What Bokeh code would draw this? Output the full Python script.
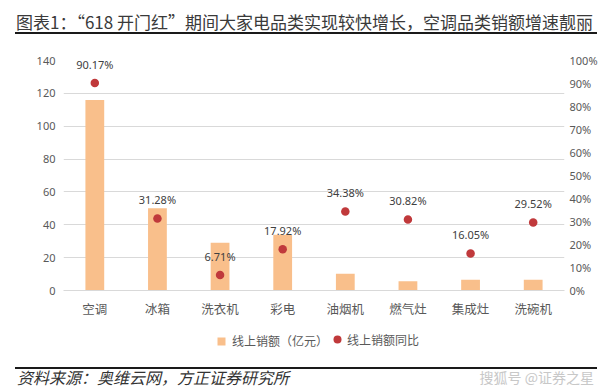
from bokeh.plotting import figure
from bokeh.models import (FactorRange, Range1d, LinearAxis, SingleIntervalTicker,
                          PrintfTickFormatter, Legend, LegendItem, LabelSet, Div,
                          ColumnDataSource)
from bokeh.layouts import column
from bokeh.embed import file_html
from bokeh.resources import INLINE
from bokeh.core.properties import value

# ---------------- data ----------------
categories = ["空调", "冰箱", "洗衣机", "彩电", "油烟机", "燃气灶", "集成灶", "洗碗机"]
sales = [116, 50, 29, 34, 10.2, 5.7, 6.5, 6.5]                 # 线上销额（亿元）
yoy = [90.17, 31.28, 6.71, 17.92, 34.38, 30.82, 16.05, 29.52]  # 线上销额同比 (%)
left_max, left_step = 140, 20
right_max, right_step = 100, 10

title_text = "图表1：“618 开门红”期间大家电品类实现较快增长，空调品类销额增速靓丽"
source_text = "资料来源：奥维云网，方正证券研究所"
watermark_text = "搜狐号 @证券之星"
legend_sales = "线上销额（亿元）"
legend_yoy = "线上销额同比"

CJK = "Noto Sans CJK SC"
NUM = "Noto Sans"
BAR_COLOR = "#F9BF8B"
DOT_COLOR = "#C0393B"
W = 600

# ---------------- header ----------------
header = Div(width=W, height=36, margin=0, text=(
    f'<div style="position:relative;width:{W}px;height:36px;margin:0;padding:0;">'
    f'<div style="position:absolute;left:16px;top:12px;font-family:\'{CJK}\';'
    f'font-size:17px;line-height:20px;color:#3a3a3a;white-space:nowrap;">{title_text}</div>'
    f'<div style="position:absolute;left:15px;width:582px;top:32px;height:2px;'
    f'background:#1a1a1a;"></div></div>'))

# ---------------- main chart ----------------
src = ColumnDataSource(dict(cat=categories, sales=sales, yoy=yoy,
                            label=[f"{v:.2f}%" for v in yoy]))

p = figure(width=W, height=286, x_range=FactorRange(*categories, range_padding=0),
           y_range=Range1d(0, left_max), toolbar_location=None, output_backend="svg",
           min_border_left=63, min_border_right=33, min_border_top=24,
           min_border_bottom=32, outline_line_color=None)
p.extra_y_ranges = {"pct": Range1d(0, right_max)}

bars = p.vbar(x="cat", top="sales", width=0.3, source=src, fill_color=BAR_COLOR,
              line_color=None)
dots = p.scatter(x="cat", y="yoy", y_range_name="pct", size=8.5, source=src,
                 fill_color=DOT_COLOR, line_color=None)

labels = LabelSet(x="cat", y="yoy", text="label", y_range_name="pct", source=src,
                  y_offset=19, text_align="center", text_baseline="middle",
                  text_font=value(NUM), text_font_size="11px", text_color="#404040")
p.add_layout(labels)

ry = LinearAxis(y_range_name="pct", ticker=SingleIntervalTicker(interval=right_step),
                formatter=PrintfTickFormatter(format="%d%%"))
p.add_layout(ry, "right")

p.yaxis[0].ticker = SingleIntervalTicker(interval=left_step)
for ax in p.yaxis:
    ax.axis_line_color = None
    ax.major_tick_line_color = None
    ax.minor_tick_line_color = None
    ax.major_tick_out = 0
    ax.major_tick_in = 0
    ax.minor_tick_out = 0
    ax.major_label_text_font = NUM
    ax.major_label_text_font_size = "11px"
    ax.major_label_text_color = "#595959"
p.yaxis[0].major_label_standoff = 8
ry.major_label_standoff = 5

p.xaxis.axis_line_color = "#D9D9D9"
p.xaxis.major_tick_line_color = None
p.xaxis.minor_tick_line_color = None
p.xaxis.major_tick_out = 0
p.xaxis.major_tick_in = 0
p.xaxis.major_label_standoff = 8
p.xaxis.major_label_text_font = CJK
p.xaxis.major_label_text_font_size = "12.5px"
p.xaxis.major_label_text_color = "#595959"

p.xgrid.grid_line_color = None
p.ygrid.grid_line_color = "#D9D9D9"
p.ygrid.grid_line_width = 1

# ---------------- legend strip ----------------
# same series, same x scale; its y range lies above the data so only the legends show
lf = figure(width=W, height=34, x_range=p.x_range, y_range=Range1d(1000, 1001),
            x_axis_type=None, y_axis_type=None, toolbar_location=None,
            output_backend="svg", min_border=0, outline_line_color=None)
lf.grid.visible = False
lg_bar = lf.vbar(x="cat", top="sales", width=0.3, source=src, fill_color=BAR_COLOR,
                 line_color=None)
lg_dot = lf.scatter(x="cat", y="yoy", size=8.5, source=src, fill_color=DOT_COLOR,
                    line_color=None)
common = dict(orientation="horizontal", label_text_font=CJK, label_text_font_size="12px",
              label_text_color="#595959", padding=0, margin=0, border_line_color=None,
              background_fill_alpha=0)
legend_a = Legend(items=[LegendItem(label=legend_sales, renderers=[lg_bar])],
                  location=(153, 7), glyph_width=10, glyph_height=10, label_standoff=6,
                  **common)
legend_b = Legend(items=[LegendItem(label=legend_yoy, renderers=[lg_dot])],
                  location=(264, 7), glyph_width=20, glyph_height=20, label_standoff=0,
                  **common)
lf.add_layout(legend_a)
lf.add_layout(legend_b)

# ---------------- footer ----------------
footer = Div(width=W, height=36, margin=0, text=(
    f'<div style="position:relative;width:{W}px;height:36px;margin:0;padding:0;">'
    f'<div style="position:absolute;left:15px;width:582px;top:11px;height:2px;'
    f'background:#1a1a1a;"></div>'
    f'<div style="position:absolute;left:17px;top:12px;font-family:\'{CJK}\';'
    f'font-size:16px;line-height:18px;font-style:italic;color:#333333;'
    f'white-space:nowrap;">{source_text}</div>'
    f'<div style="position:absolute;right:6px;top:13px;font-family:\'{CJK}\';'
    f'font-size:14px;line-height:16px;color:#C8C8C8;white-space:nowrap;">'
    f'{watermark_text}</div></div>'))

layout = column(header, p, lf, footer, spacing=0)
open("out.html", "w").write(file_html(layout, INLINE))
